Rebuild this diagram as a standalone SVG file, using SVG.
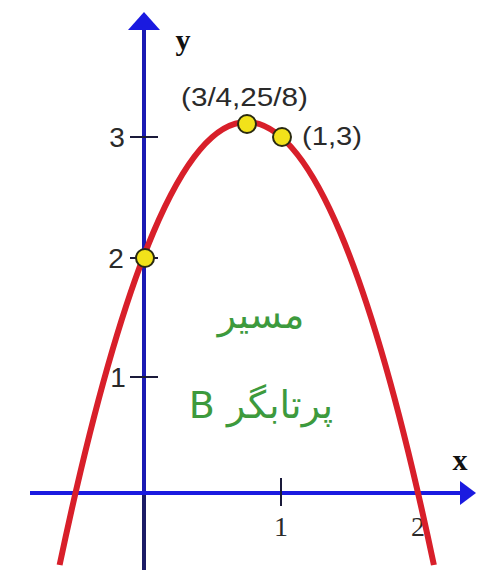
<svg xmlns="http://www.w3.org/2000/svg" width="479" height="570" viewBox="0 0 479 570">
<style>
.lbl{font-family:"Liberation Sans","DejaVu Sans",sans-serif;fill:#2a2a2a}
.ax{font-family:"Liberation Serif","DejaVu Serif",serif;font-weight:bold;fill:#111}
.fa{font-family:"DejaVu Sans","Noto Sans",sans-serif;fill:#3d9a3d}
.tick{stroke:#1a1a3a;stroke-width:2}
.pt{fill:#f2e21a;stroke:#2a2a10;stroke-width:2}
</style>
<rect width="479" height="570" fill="#ffffff"/>
<g id="axes">
  <line x1="144" y1="28" x2="144" y2="493" stroke="#1a1ab4" stroke-width="4"/>
  <line x1="144" y1="493" x2="144" y2="570" stroke="#1c1c66" stroke-width="4"/>
  <polygon points="144,12 160,30 128,30" fill="#1a1ae0"/>
  <line x1="30" y1="493" x2="462" y2="493" stroke="#1a1ae0" stroke-width="4"/>
  <polygon points="476,493 460,481 460,505" fill="#1a1ae0"/>
  <line class="tick" x1="130" y1="137" x2="158" y2="137"/>
  <line class="tick" x1="130" y1="258" x2="158" y2="258"/>
  <line class="tick" x1="130" y1="377" x2="158" y2="377"/>
  <line class="tick" x1="281" y1="478" x2="281" y2="506"/>
  <text class="ax" x="183" y="50" font-size="30" text-anchor="middle">y</text>
  <text class="ax" x="460" y="470" font-size="30" text-anchor="middle">x</text>
  <text class="lbl" x="117" y="147" font-size="28" text-anchor="middle">3</text>
  <text class="lbl" x="116" y="268" font-size="28" text-anchor="middle">2</text>
  <text class="lbl" x="118" y="387" font-size="28" text-anchor="middle" fill="#2a4a3a">1</text>
  <text class="lbl" x="281" y="536" font-size="28" text-anchor="middle" style="font-family:'Liberation Serif',serif">1</text>
  <text class="lbl" x="418" y="536" font-size="28" text-anchor="middle" style="font-family:'Liberation Serif',serif">2</text>
</g>
<g id="curve">
  <path d="M59.6,565 Q246.75,-320.9 433.9,565" fill="none" stroke="#d81f2a" stroke-width="6"/>
</g>
<g id="points">
  <circle class="pt" cx="247" cy="124" r="9"/>
  <circle class="pt" cx="282" cy="137" r="9"/>
  <circle class="pt" cx="145" cy="258" r="9"/>
  <text class="lbl" x="181" y="106" font-size="26" textLength="127" lengthAdjust="spacingAndGlyphs">(3/4,25/8)</text>
  <text class="lbl" x="302" y="145" font-size="26" textLength="60" lengthAdjust="spacingAndGlyphs">(1,3)</text>
</g>
<g id="caption">
  <text class="fa" x="261" y="328" font-size="38" text-anchor="middle" direction="rtl">مسیر</text>
  <text class="fa" x="261" y="418" font-size="38" text-anchor="middle" direction="rtl">پرتابگر B</text>
</g>
</svg>
